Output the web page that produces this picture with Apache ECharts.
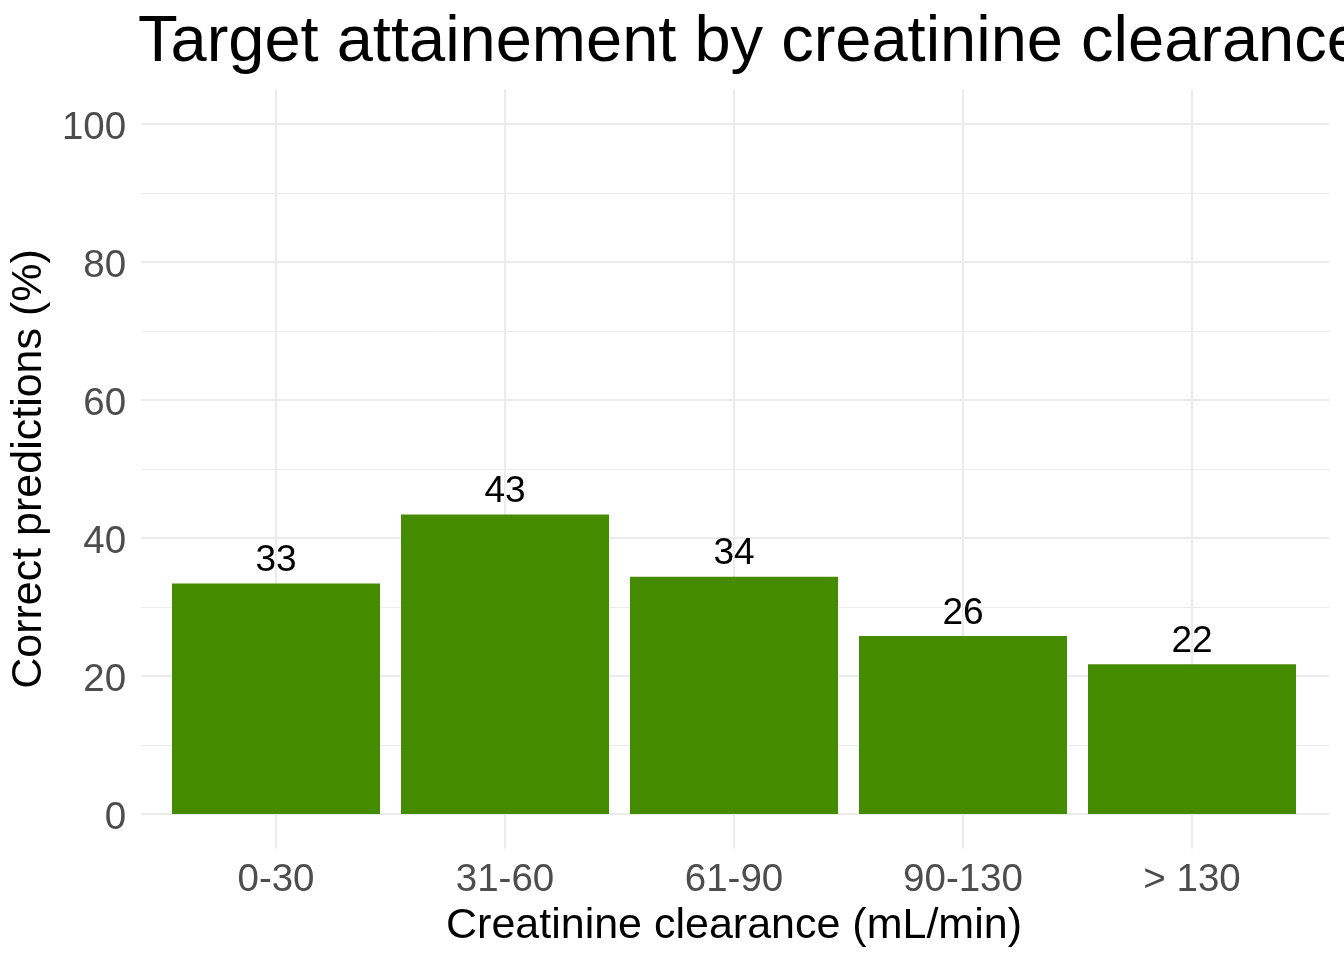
<!DOCTYPE html>
<html>
<head>
<meta charset="utf-8">
<script src="https://cdn.jsdelivr.net/npm/echarts@6/dist/echarts.min.js"></script>
<style>
html,body{margin:0;padding:0;background:#fff;}
#chart{width:1344px;height:960px;}
</style>
</head>
<body>
<div id="chart"></div>
<script>
const titleText = 'Target attainement by creatinine clearance';
const xTitle = 'Creatinine clearance (mL/min)';
const yTitle = 'Correct predictions (%)';
const categories = ['0-30', '31-60', '61-90', '90-130', '> 130'];
const values = [33.4, 43.4, 34.4, 25.8, 21.7];
const yTicks = [0, 20, 40, 60, 80, 100];

const FONT = 'Liberation Sans, Arial, sans-serif';
const chart = echarts.init(document.getElementById('chart'), null, {renderer: 'canvas'});
const grid0 = {left: 276, top: 89.5, width: 916, height: 759};
const grid1 = {left: 138.6, top: 124, width: 1190.8, height: 690};

chart.setOption({
  animation: false,
  backgroundColor: '#ffffff',
  title: {
    text: titleText,
    left: 138, top: 11, padding: 0,
    textStyle: {fontFamily: FONT, fontSize: 65, fontWeight: 'normal', color: '#000'}
  },
  grid: [grid0, grid1],
  xAxis: [{
    type: 'category', gridIndex: 0, data: categories, boundaryGap: false,
    axisLine: {show: false}, axisTick: {show: false},
    splitLine: {show: true, lineStyle: {color: '#EBEBEB', width: 2}},
    axisLabel: {interval: 0, margin: 12, fontFamily: FONT, fontSize: 38.5, color: '#4D4D4D'},
    name: xTitle, nameLocation: 'middle', nameGap: 53,
    nameTextStyle: {fontFamily: FONT, fontSize: 43, color: '#000'}
  }, {
    type: 'category', gridIndex: 1, data: categories, show: false
  }],
  yAxis: [{
    type: 'value', gridIndex: 0, min: -5, max: 105, show: false
  }, {
    type: 'value', gridIndex: 1, min: yTicks[0], max: yTicks[yTicks.length - 1], interval: 20,
    axisLine: {show: false}, axisTick: {show: false},
    minorTick: {show: false, splitNumber: 2},
    splitLine: {show: true, lineStyle: {color: '#EBEBEB', width: 2}},
    minorSplitLine: {show: true, lineStyle: {color: '#EBEBEB', width: 1}},
    axisLabel: {margin: 15, verticalAlign: 'top', lineHeight: 38, padding: [-15, 0, 0, 0], fontFamily: FONT, fontSize: 38.5, color: '#4D4D4D'},
    name: yTitle, nameLocation: 'middle', nameGap: 77,
    nameTextStyle: {fontFamily: FONT, fontSize: 43, color: '#000'}
  }],
  series: [{
    type: 'bar', xAxisIndex: 0, yAxisIndex: 0,
    data: values, barWidth: 208, clip: false,
    itemStyle: {color: '#458B00'},
    label: {
      show: true, position: 'top', distance: 4,
      formatter: p => String(Math.round(p.value)),
      fontFamily: FONT, fontSize: 37, color: '#000'
    }
  }]
});
</script>
</body>
</html>
